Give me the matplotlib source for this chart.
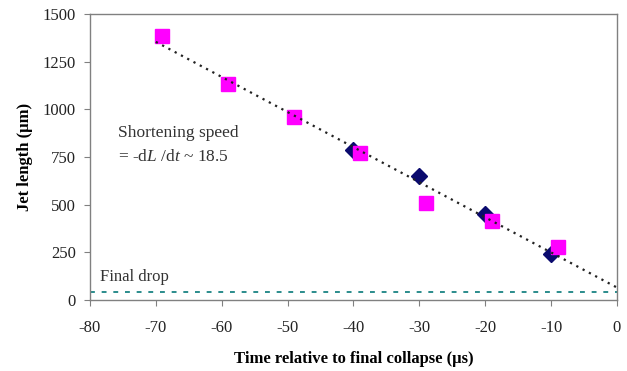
import numpy as np
import matplotlib
matplotlib.use("Agg")
import matplotlib.pyplot as plt

# Datos
sq_time = [-69, -59, -49, -39, -29, -19, -9]
sq_len = [1386, 1132, 960, 770, 512, 416, 281]
dia_time = [-40, -30, -20, -10]
dia_len = [788, 653, 454, 240]
final_drop = 45
xticks = [-80, -70, -60, -50, -40, -30, -20, -10, 0]
yticks = [0, 250, 500, 750, 1000, 1250, 1500]

plt.rcParams['font.family'] = ['Liberation Serif', 'DejaVu Serif']
plt.rcParams['axes.unicode_minus'] = False
plt.rcParams['mathtext.fontset'] = 'custom'
plt.rcParams['mathtext.rm'] = 'Liberation Serif'
plt.rcParams['mathtext.it'] = 'Liberation Serif:italic'

fig = plt.figure(figsize=(6.27, 3.71), dpi=100)
ax = fig.add_axes([0.1435, 0.191, 0.8405, 0.771])

# Ajuste lineal sobre todos los puntos
all_t = np.array(sq_time + dia_time)
all_l = np.array(sq_len + dia_len)
m, b = np.polyfit(all_t, all_l, 1)
tt = np.array([-70, 0])

ax.plot(dia_time, dia_len, linestyle='none', marker='D', color='#0a0a6e',
        markersize=8, zorder=2)
ax.plot(sq_time, sq_len, linestyle='none', marker='s', color='#ff00ff',
        markersize=9.5, zorder=3)
ax.plot(tt, m * tt + b, color='#222222', linestyle=(0, (1, 2.2)),
        linewidth=1.6, zorder=4)
ax.axhline(final_drop, color='#2a8c8c', linestyle=(0, (2.5, 3.5)),
           linewidth=1.4, zorder=1)

ax.text(-75.8, 874, "Shortening speed", fontsize=12.5, color='#333333',
        va='center')
ax.text(-75.8, 750, r"= -d$\it{L}$ /d$\it{t}$ ~ 18.5", fontsize=12.5,
        color='#333333', va='center')
ax.text(-78.5, 122, "Final drop", fontsize=12, color='#333333', va='center')

ax.set_xlim(-80, 0)
ax.set_ylim(0, 1500)
ax.set_xticks(xticks)
ax.set_yticks(yticks)
ax.tick_params(direction='out', length=4, color='#808080', labelsize=12,
               labelcolor='#222222', pad=6)
ax.tick_params(axis='x', pad=10)
for s in ax.spines.values():
    s.set_color('#808080')
    s.set_linewidth(1.0)

ax.set_xlabel("Time relative to final collapse (µs)", fontsize=12,
              fontweight='bold', labelpad=11)
ax.set_ylabel("Jet length (µm)", fontsize=12, fontweight='bold',
              labelpad=7)

fig.savefig("out.png", dpi=100)
